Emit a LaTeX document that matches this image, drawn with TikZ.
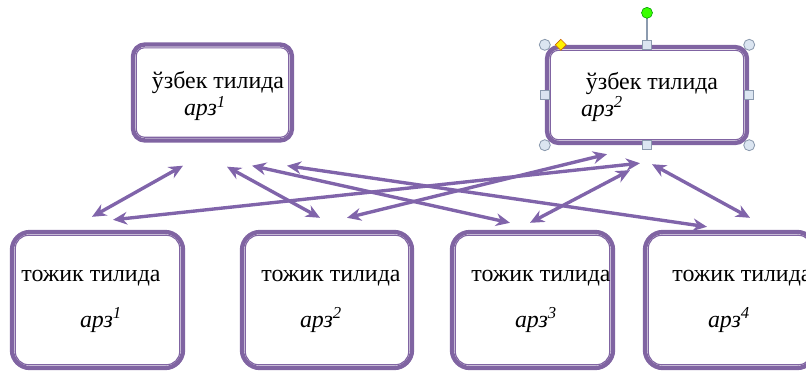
\documentclass[tikz,border=0pt]{standalone}
\usepackage{fontspec}
\setmainfont{Liberation Serif}
\usetikzlibrary{positioning, calc, arrows.meta}
\definecolor{boxpurple}{RGB}{128,100,162}
\definecolor{linkpurple}{RGB}{128,100,170}
\definecolor{handlefill}{RGB}{219,229,241}
\definecolor{handledraw}{RGB}{140,155,175}

\begin{document}
\begin{tikzpicture}[x=0.025cm, y=-0.025cm, font=\fontsize{17}{20}\selectfont]
    % Define block styles
    \tikzstyle{box} = [rectangle, draw=boxpurple, line width=3.1pt, fill=white, inner sep=0pt]
    \tikzstyle{topbox} = [box, rounded corners=0.3cm, minimum height=2.4cm]
    \tikzstyle{lowbox} = [box, rounded corners=0.45cm, minimum height=3.4cm]
    \tikzstyle{link} = [{Stealth[length=10pt, width=9pt]}-{Stealth[length=10pt, width=9pt]}, draw=linkpurple, line width=2.4pt]
    \tikzstyle{lbl} = [inner sep=0pt]
    \tikzstyle{arz} = [inner sep=0pt, font=\fontsize{17}{20}\selectfont\itshape]
    \tikzstyle{handle} = [draw=handledraw, fill=handlefill, line width=0.6pt]
    \useasboundingbox (0,0) rectangle (806,370);

    % Place nodes
    \node [topbox, minimum width=3.975cm] (uz1) at (212.5,92.5) {};
    \node [topbox, minimum width=5cm] (uz2) at (647,95) {};
    \node [lowbox, minimum width=4.275cm] (tj1) at (97.5,300) {};
    \node [lowbox, minimum width=4.25cm] (tj2) at (327,300) {};
    \node [lowbox, minimum width=4.025cm] (tj3) at (532.5,300) {};
    \node [lowbox, minimum width=4.25cm] (tj4) at (730,300) {};

    % Inner thin frames
    \foreach \n in {uz1, uz2}
        \draw [boxpurple, line width=0.8pt, rounded corners=0.2cm] ($(\n.south west)+(5.5,-5.5)$) rectangle ($(\n.north east)+(-5.5,5.5)$);
    \foreach \n in {tj1, tj2, tj3, tj4}
        \draw [boxpurple, line width=0.8pt, rounded corners=0.33cm] ($(\n.south west)+(5.5,-5.5)$) rectangle ($(\n.north east)+(-5.5,5.5)$);

    % Texts
    \node [lbl] at ($(uz1)+(5.5,-9.5)$) {ўзбек тилида};
    \node [arz] at ($(uz1)+(-7.5,16)$) {арз\textsuperscript{1}};
    \node [lbl] at ($(uz2)+(5,-11)$) {ўзбек тилида};
    \node [arz] at ($(uz2)+(-45,14)$) {арз\textsuperscript{2}};
    \node [lbl] at ($(tj1)+(-6.5,-22)$) {тожик тилида};
    \node [arz] at ($(tj1)+(3.5,20)$) {арз\textsuperscript{1}};
    \node [lbl] at ($(tj2)+(4,-22)$) {тожик тилида};
    \node [arz] at ($(tj2)+(-6,20)$) {арз\textsuperscript{2}};
    \node [lbl] at ($(tj3)+(8.5,-22)$) {тожик тилида};
    \node [arz] at ($(tj3)+(3.5,20)$) {арз\textsuperscript{3}};
    \node [lbl] at ($(tj4)+(12,-22)$) {тожик тилида};
    \node [arz] at ($(tj4)+(-1,20)$) {арз\textsuperscript{4}};

    % Draw connections as arrows
    \draw [link] ($(uz1.south)+(-29.5,23)$) -- ($(tj1.north)+(-5.5,-13)$);
    \draw [link] ($(uz1.south)+(14.5,24)$) -- ($(tj2.north)+(-7,-12)$);
    \draw [link] ($(uz1.south)+(39.5,23)$) -- ($(tj3.north)+(-22.5,-7)$);
    \draw [link] ($(uz1.south)+(74.5,23)$) -- ($(tj4.north)+(-23,-3)$);
    \draw [link] ($(uz2.south)+(-40,9)$) -- ($(tj2.north)+(20,-12)$);
    \draw [link] ($(uz2.south)+(-7,18)$) -- ($(tj1.north)+(15.5,-10)$);
    \draw [link] ($(uz2.south)+(-17,25)$) -- ($(tj3.north)+(-2.5,-7)$);
    \draw [link] ($(uz2.south)+(5,19)$) -- ($(tj4.north)+(20,-12)$);

    % Selection handles on the second box
    \draw [handledraw, line width=0.8pt] (uz2.north) -- ++(0,-27) coordinate (rot);
    \draw [draw=green!60!black, fill=green!70!lime] ($(rot)+(0,-5)$) circle (5.5);
    \foreach \a in {north west, north east, south west, south east}
        \draw [handle] (uz2.\a) circle (5.5);
    \foreach \a in {north, south, east, west}
        \draw [handle] ($(uz2.\a)+(-4.5,-4.5)$) rectangle +(9,9);
    \draw [draw=orange!80!black, fill=yellow] ($(uz2.north west)+(16,0)$) +(-5.5,0) -- +(0,-5.5) -- +(5.5,0) -- +(0,5.5) -- cycle;
\end{tikzpicture}
\end{document}
